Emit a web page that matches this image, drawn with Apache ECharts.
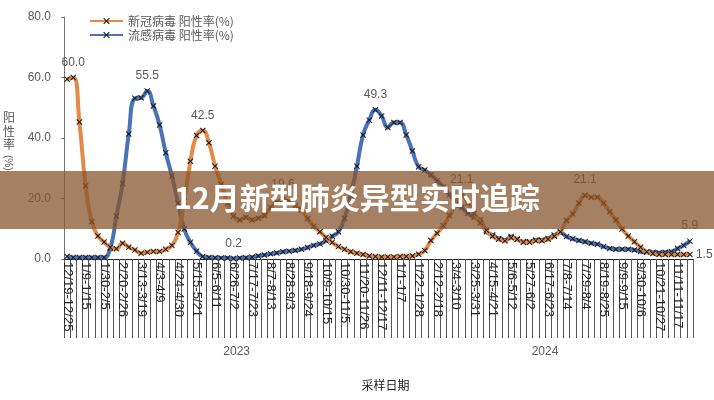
<!DOCTYPE html>
<html><head><meta charset="utf-8">
<script src="https://cdn.jsdelivr.net/npm/echarts@6/dist/echarts.min.js"></script>
<style>html,body{margin:0;padding:0;background:#fff}#c{width:714px;height:400px}</style>
</head><body><div id="c"></div>
<script>
var weeks = ["12/19-12/25","12/26-1/1","1/2-1/8","1/9-1/15","1/16-1/22","1/23-1/29","1/30-2/5","2/6-2/12","2/13-2/19","2/20-2/26","2/27-3/5","3/6-3/12","3/13-3/19","3/20-3/26","3/27-4/2","4/3-4/9","4/10-4/16","4/17-4/23","4/24-4/30","5/1-5/7","5/8-5/14","5/15-5/21","5/22-5/28","5/29-6/4","6/5-6/11","6/12-6/18","6/19-6/25","6/26-7/2","7/3-7/9","7/10-7/16","7/17-7/23","7/24-7/30","7/31-8/6","8/7-8/13","8/14-8/20","8/21-8/27","8/28-9/3","9/4-9/10","9/11-9/17","9/18-9/24","9/25-10/1","10/2-10/8","10/9-10/15","10/16-10/22","10/23-10/29","10/30-11/5","11/6-11/12","11/13-11/19","11/20-11/26","11/27-12/3","12/4-12/10","12/11-12/17","12/18-12/24","12/25-12/31","1/1-1/7","1/8-1/14","1/15-1/21","1/22-1/28","1/29-2/4","2/5-2/11","2/12-2/18","2/19-2/25","2/26-3/3","3/4-3/10","3/11-3/17","3/18-3/24","3/25-3/31","4/1-4/7","4/8-4/14","4/15-4/21","4/22-4/28","4/29-5/5","5/6-5/12","5/13-5/19","5/20-5/26","5/27-6/2","6/3-6/9","6/10-6/16","6/17-6/23","6/24-6/30","7/1-7/7","7/8-7/14","7/15-7/21","7/22-7/28","7/29-8/4","8/5-8/11","8/12-8/18","8/19-8/25","8/26-9/1","9/2-9/8","9/9-9/15","9/16-9/22","9/23-9/29","9/30-10/6","10/7-10/13","10/14-10/20","10/21-10/27","10/28-11/3","11/4-11/10","11/11-11/17","11/18-11/24","11/25-12/1"];

var covid = [59.4,60.0,45.3,24.2,12.3,7.6,5.6,3.9,3.4,5.2,3.9,3.0,1.9,2.2,2.5,2.5,3.2,4.5,8.8,19.0,
32.3,40.8,42.5,38.4,30.7,24.6,18.5,14.2,12.9,13.8,12.9,13.5,14.4,17.0,18.8,19.6,19.0,17.6,16.2,13.4,
10.8,9.0,7.1,5.5,4.1,3.2,2.4,1.9,1.5,1.0,0.8,0.7,0.7,0.7,0.8,0.8,1.0,1.6,2.8,6.1,
8.5,11.0,14.3,17.8,21.1,18.5,15.0,12.0,9.5,7.5,6.5,6.0,7.0,6.5,5.5,5.5,6.0,6.0,6.5,7.5,
9.0,12.7,14.9,18.4,21.1,20.4,20.4,18.4,15.6,12.9,9.9,7.6,5.7,3.9,2.4,1.8,1.5,1.5,1.5,1.5,
1.5,1.5];

var flu = [0.8,0.5,0.5,0.5,0.5,0.5,0.5,3.5,14.2,25.0,41.3,53.1,53.3,55.5,50.6,44.3,35.1,27.4,18.4,9.9,
5.5,2.6,0.8,0.5,0.4,0.3,0.3,0.2,0.3,0.4,0.6,1.0,1.3,1.7,2.0,2.4,2.6,2.8,3.2,3.8,
4.5,5.0,6.0,7.5,9.0,13.5,21.0,30.7,41.0,45.9,49.3,47.3,43.5,45.1,45.1,41.0,35.7,30.5,29.4,27.8,
25.9,23.9,21.2,19.0,17.0,15.1,13.8,12.9,9.0,7.9,6.8,6.3,7.4,6.5,5.7,5.7,6.3,6.3,6.8,7.9,
8.7,7.4,6.7,6.1,5.7,5.2,4.9,4.1,3.5,3.2,3.2,3.2,3.0,2.5,2.2,2.2,2.1,2.2,2.4,3.5,
4.5,5.9];

var covidLabelIdx = [1, 22, 35, 64, 84];
var covidRightLabelIdx = [101];
var fluLabelIdx = [13, 27, 50, 101];

var yearNames = ["2023", "2024"];
var yearLabelPos = [28, 78];
var yearBounds = [0, 2, 54, 102];

var seriesNames = ["新冠病毒 阳性率(%)", "流感病毒 阳性率(%)"];
var titleText = "12月新型肺炎异型实时追踪";

var XSYM = 'path://M0,1.2L1.2,0L5,3.8L8.8,0L10,1.2L6.2,5L10,8.8L8.8,10L5,6.2L1.2,10L0,8.8L3.8,5Z';

function build(vals, idx, rightIdx) {
  return vals.map(function (v, i) {
    if (idx.indexOf(i) >= 0) return { value: v, label: { show: true, position: 'top', distance: 6 } };
    if (rightIdx && rightIdx.indexOf(i) >= 0) return { value: v, label: { show: true, position: 'right', distance: 3 } };
    return v;
  });
}

var chart = echarts.init(document.getElementById('c'), null, { renderer: 'canvas' });
var labelStyle = { show: false, color: '#595959', fontSize: 12, fontFamily: 'Liberation Sans, Arial, sans-serif', formatter: function (p) { return p.value.toFixed(1); } };

chart.setOption({
  animation: false,
  textStyle: { fontFamily: 'Liberation Sans, "Noto Sans CJK SC", sans-serif' },
  grid: { left: 63, right: 21, top: 17, bottom: 141, containLabel: false },
  legend: {
    orient: 'vertical', left: 84, top: 10, itemGap: 2, itemWidth: 33, itemHeight: 8,
    textStyle: { color: '#595959', fontSize: 12, fontFamily: '"Noto Sans CJK SC", sans-serif' },
    data: seriesNames
  },
  xAxis: [{
    type: 'category', data: weeks, boundaryGap: true,
    axisLine: { show: true, onZero: false, lineStyle: { color: '#222', width: 1 } },
    axisTick: { show: true, interval: 0, length: 79, lineStyle: { color: '#555', width: 1 } },
    axisLabel: { show: true, interval: 2, rotate: -90, margin: 3, color: '#222', fontSize: 13, fontFamily: 'Liberation Sans, Arial, sans-serif' }
  }, {
    type: 'value', min: 0, max: 102, position: 'bottom', offset: 79,
    axisLine: { show: false },
    splitLine: { show: false },
    axisTick: { show: true, customValues: yearBounds, length: 20, lineStyle: { color: '#555' } },
    axisLabel: { show: true, customValues: yearLabelPos, margin: 8, color: '#595959', fontSize: 12,
      formatter: function (v) { return yearNames[yearLabelPos.indexOf(v)]; } },
    name: '采样日期', nameLocation: 'middle', nameGap: 41,
    nameTextStyle: { color: '#222', fontSize: 12, padding: [0, 0, 0, 14], fontFamily: '"Noto Sans CJK SC", sans-serif' }
  }],
  yAxis: {
    type: 'value', min: 0, max: 80, interval: 20,
    axisLine: { show: true, onZero: false, lineStyle: { color: '#777', width: 1 } },
    axisTick: { show: true, length: 3, lineStyle: { color: '#777' } },
    splitLine: { show: false },
    axisLabel: { margin: 13, color: '#595959', fontSize: 12, formatter: function (v) { return v.toFixed(1); } },
    name: '阳\n性\n率\n ', nameLocation: 'middle', nameGap: 49, nameRotate: 0,
    nameTextStyle: { color: '#595959', fontSize: 12, lineHeight: 13.5, padding: [10, 0, 0, 0], fontFamily: '"Noto Sans CJK SC", sans-serif' }
  },
  series: [{
    name: seriesNames[0], type: 'line', smooth: 0.5, data: build(covid, covidLabelIdx, covidRightLabelIdx),
    symbol: XSYM, symbolSize: 6, showAllSymbol: true,
    lineStyle: { color: '#E58A46', width: 4 },
    itemStyle: { color: '#1a1a1a' },
    label: labelStyle, labelLayout: { hideOverlap: false }, z: 3
  }, {
    name: seriesNames[1], type: 'line', smooth: 0.5, data: build(flu, fluLabelIdx),
    symbol: XSYM, symbolSize: 6, showAllSymbol: true,
    lineStyle: { color: '#4A72B8', width: 4 },
    itemStyle: { color: '#1a1a1a' },
    label: labelStyle, labelLayout: { hideOverlap: false }, z: 2
  }],
  graphic: [{
    type: 'text', left: 3, top: 155, z: 50,
    style: { text: '(%)', fill: '#595959', fontSize: 10, fontFamily: 'Liberation Sans, sans-serif' },
    rotation: -Math.PI / 2
  }, {
    type: 'rect', left: 0, top: 171, z: 100,
    shape: { width: 714, height: 58 },
    style: { fill: 'rgba(136,86,46,0.75)' }
  }, {
    type: 'text', left: 'center', top: 183, z: 101,
    style: { text: titleText, fill: '#fff', fontSize: 30, fontWeight: 'bold', fontFamily: '"Noto Sans CJK SC", sans-serif' }
  }]
});
</script>
</body></html>
